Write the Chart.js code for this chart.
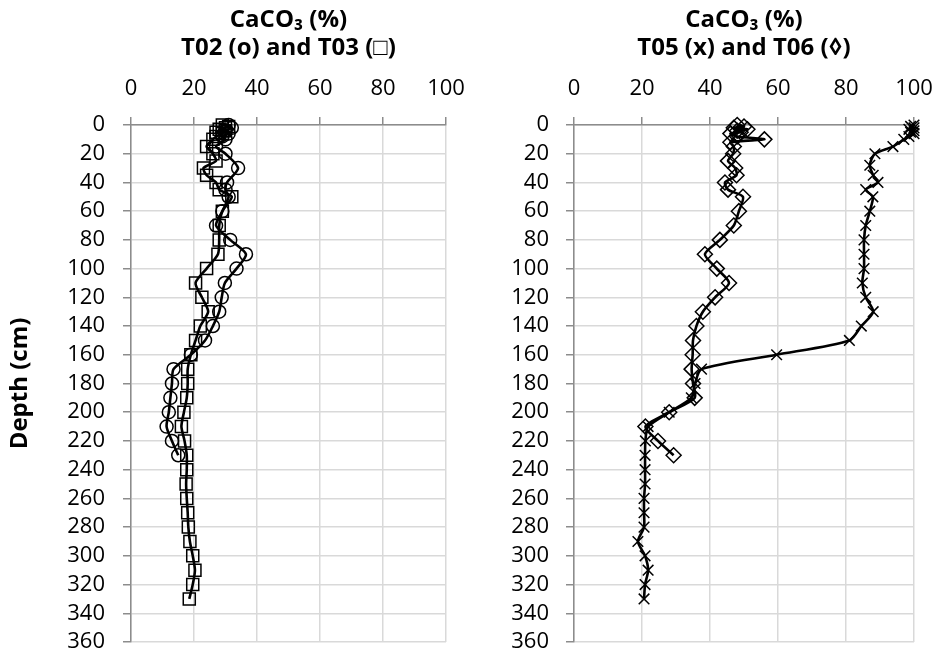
<!DOCTYPE html>
<html>
<head>
<meta charset="utf-8">
<script src="https://cdn.jsdelivr.net/npm/chart.js@4/dist/chart.umd.min.js"></script>
<style>
  html, body { margin: 0; padding: 0; background: #fff; }
  #wrap { position: relative; width: 936px; height: 654px; }
  canvas { position: absolute; top: 0; }
  #c1 { left: 0; }
  #c2 { left: 470px; }
</style>
</head>
<body>
<div id="wrap">
  <canvas id="c1" width="470" height="654"></canvas>
  <canvas id="c2" width="466" height="654"></canvas>
</div>
<script>
// ---------- data (depth in cm, CaCO3 in %) ----------
const depthTicks = [0, 20, 40, 60, 80, 100, 120, 140, 160, 180, 200, 220, 240, 260, 280, 300, 320, 340, 360];
const caco3Ticks = [0, 20, 40, 60, 80, 100];

const t02Depth = [0, 2, 4, 6, 8, 10, 15, 20, 30, 40, 45, 50, 60, 70, 80, 90, 100, 110, 120, 130, 140, 150, 160, 170, 180, 190, 200, 210, 220, 230];
const t02CaCO3 = [31, 32, 30, 31, 29, 30, 27, 30, 34, 30.5, 30, 31, 29, 27, 31.5, 36.5, 33.5, 29.8, 28.8, 28, 26, 23.5, 19, 13.5, 13, 12.5, 12, 11.3, 13, 15];

const t03Depth = [0, 1, 2, 3, 4, 5, 6, 8, 10, 15, 20, 25, 30, 35, 40, 45, 50, 60, 70, 80, 90, 100, 110, 120, 130, 140, 150, 160, 170, 180, 190, 200, 210, 220, 230, 240, 250, 260, 270, 280, 290, 300, 310, 320, 330];
const t03CaCO3 = [29, 31, 30, 28, 30, 27, 29, 27, 26, 24, 26, 27, 23, 24, 27, 28, 32, 29, 28, 28, 27.6, 24, 20.5, 22.5, 24.5, 22, 20.5, 19, 18, 18, 17.7, 16.8, 16, 17, 17.7, 17.7, 17.5, 17.7, 18, 18.2, 18.7, 19.6, 20.3, 19.6, 18.5];

const t05Depth = [0, 1, 2, 3, 4, 5, 6, 8, 10, 15, 20, 28, 35, 40, 45, 50, 60, 70, 80, 90, 100, 110, 120, 130, 140, 150, 160, 170, 180, 190, 200, 210, 220, 230, 240, 250, 260, 270, 280, 290, 300, 310, 320, 330];
const t05CaCO3 = [100, 99, 100, 98.5, 100, 99, 100, 98.5, 97, 93.8, 88.5, 87, 88, 89.4, 85.8, 87.9, 87, 85.8, 85.3, 85.3, 85.3, 84.8, 85.8, 88, 84.5, 81, 59.6, 37.5, 35.6, 34.5, 28, 21.8, 21, 20.9, 20.9, 20.9, 20.6, 20.6, 20.6, 18.8, 20.9, 21.8, 20.9, 20.6];

const t06Depth = [0, 1, 2, 3, 4, 5, 6, 8, 10, 12, 15, 20, 25, 30, 35, 40, 45, 50, 60, 70, 80, 90, 100, 110, 120, 130, 140, 150, 160, 170, 180, 190, 200, 210, 220, 230];
const t06CaCO3 = [48, 50, 47, 51, 48, 49, 46, 48, 56, 46, 47, 46.8, 45.3, 47.4, 47.8, 44.4, 45.3, 49.7, 48.5, 47, 42.9, 38.5, 42, 45.6, 41.5, 37.9, 36, 35, 34.9, 34.6, 35, 35.5, 28, 21, 24.7, 29.3];

const leftTitle = ['CaCO\u2083 (%)', 'T02 (o) and T03 (\u25A1)'];
const rightTitle = ['CaCO\u2083 (%)', 'T05 (x) and T06 (\u25CA)'];
const depthTitle = 'Depth (cm)';

// ---------- helpers ----------
const FONT = "'Open Sans', 'Liberation Sans', sans-serif";

function pts(depths, vals) {
  return depths.map((d, i) => ({ x: vals[i], y: d }));
}

function series(depths, vals, style, radius) {
  return {
    data: pts(depths, vals),
    showLine: true,
    borderColor: '#000',
    borderWidth: 2.6,
    tension: 0.25,
    pointStyle: style,
    pointRadius: radius,
    pointBorderWidth: 1.5,
    pointBorderColor: '#000',
    pointBackgroundColor: 'rgba(0,0,0,0)',
    clip: false
  };
}

function options(cfg) {
  return {
    responsive: false,
    animation: false,
    events: [],
    layout: { padding: { top: 0, bottom: 12, left: 0, right: cfg.padRight } },
    plugins: { legend: { display: false }, tooltip: { enabled: false } },
    scales: {
      x: {
        type: 'linear', position: 'top',
        min: caco3Ticks[0], max: caco3Ticks[caco3Ticks.length - 1],
        afterBuildTicks: s => { s.ticks = caco3Ticks.map(v => ({ value: v })); },
        afterFit: s => { s.height = 125; s.paddingLeft = 0; s.paddingRight = 0; },
        ticks: { color: '#000', font: { family: FONT, size: 22 }, padding: 15, maxRotation: 0, autoSkip: false },
        grid: { color: '#d9d9d9', lineWidth: 1.5, tickColor: '#8c8c8c', tickLength: 8 },
        border: { color: '#8c8c8c', width: 1.5 },
        title: { display: true, text: cfg.xTitle, color: '#000',
                 font: { family: FONT, size: 24, weight: 'bold', lineHeight: 1.1667 },
                 padding: { top: 6, bottom: 0 } }
      },
      y: {
        type: 'linear', position: 'left', reverse: true,
        min: depthTicks[0], max: depthTicks[depthTicks.length - 1],
        afterBuildTicks: s => { s.ticks = depthTicks.map(v => ({ value: v })); },
        afterFit: s => { s.width = cfg.yWidth; s.paddingTop = 0; s.paddingBottom = 0; },
        ticks: { color: '#000', font: { family: FONT, size: 22 }, padding: cfg.yPad, autoSkip: false },
        grid: { color: '#d9d9d9', lineWidth: 1.5, tickColor: '#8c8c8c', tickLength: 8 },
        border: { color: '#8c8c8c', width: 1.5 },
        title: { display: !!cfg.yTitle, text: cfg.yTitle || '', color: '#000',
                 font: { family: FONT, size: 24, weight: 'bold', lineHeight: 1.2 },
                 padding: { top: 6, bottom: 0 } }
      }
    }
  };
}

new Chart(document.getElementById('c1'), {
  type: 'scatter',
  data: { datasets: [
    series(t02Depth, t02CaCO3, 'circle', 6.5),
    series(t03Depth, t03CaCO3, 'rect', 8.5)
  ] },
  options: options({ xTitle: leftTitle, yTitle: depthTitle, yWidth: 131, padRight: 24, yPad: 18 })
});

new Chart(document.getElementById('c2'), {
  type: 'scatter',
  data: { datasets: [
    series(t05Depth, t05CaCO3, 'crossRot', 7.5),
    series(t06Depth, t06CaCO3, 'rectRot', 7.5)
  ] },
  options: options({ xTitle: rightTitle, yTitle: null, yWidth: 104, padRight: 22, yPad: 17 })
});
</script>
</body>
</html>
